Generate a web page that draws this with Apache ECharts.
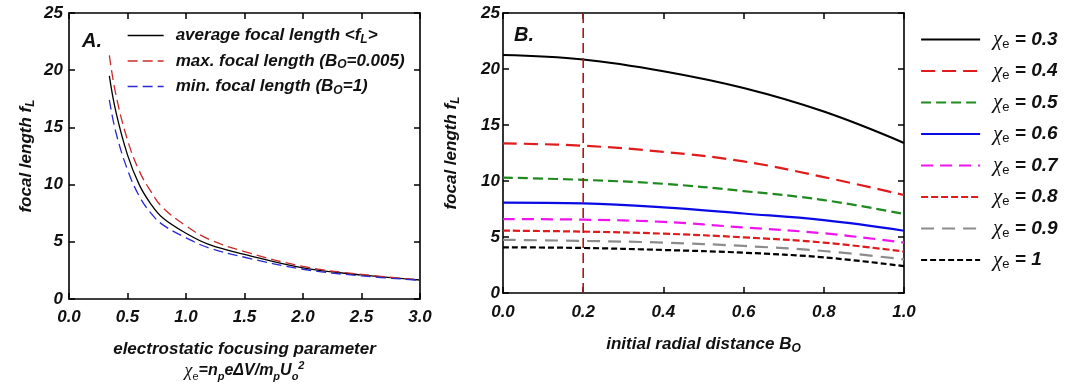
<!DOCTYPE html>
<html>
<head>
<meta charset="utf-8">
<script src="https://cdn.jsdelivr.net/npm/echarts@6/dist/echarts.min.js"></script>
<style>html,body{margin:0;padding:0;background:#fff;}#c{width:1068px;height:389px;}</style>
</head>
<body>
<div id="c"></div>
<script>
// ---- Panel A data ----
const chiValues = [0.345, 0.4, 0.5, 0.6, 0.7, 0.8, 1.0, 1.2, 1.5, 2.0, 2.5, 3.0];
const avgFocal  = [19.5, 16.4, 12.6, 10.0, 8.3, 7.1, 5.75, 4.75, 3.9, 2.72, 2.1, 1.66];
const maxFocal  = [21.3, 17.9, 13.9, 11.2, 9.4, 8.0, 6.4, 5.2, 4.15, 2.85, 2.15, 1.68];
const minFocal  = [17.4, 14.6, 11.3, 9.0, 7.5, 6.5, 5.35, 4.45, 3.65, 2.6, 2.02, 1.64];
const seriesNamesA = ['average focal length <fL>', 'max. focal length (BO=0.005)', 'min. focal length (BO=1)'];

// ---- Panel B data ----
const radialB = [0, 0.2, 0.4, 0.6, 0.8, 1.0];
const chiLabels = ['0.3', '0.4', '0.5', '0.6', '0.7', '0.8', '0.9', '1'];
const f_chi03 = [21.25, 20.85, 19.8, 18.3, 16.2, 13.4];
const f_chi04 = [13.36, 13.15, 12.6, 11.75, 10.35, 8.75];
const f_chi05 = [10.3, 10.1, 9.75, 9.1, 8.3, 7.05];
const f_chi06 = [8.07, 8.0, 7.65, 7.1, 6.5, 5.56];
const f_chi07 = [6.6, 6.55, 6.35, 5.85, 5.33, 4.5];
const f_chi08 = [5.57, 5.48, 5.3, 4.97, 4.5, 3.7];
const f_chi09 = [4.75, 4.65, 4.5, 4.2, 3.75, 3.0];
const f_chi10 = [4.08, 4.02, 3.84, 3.6, 3.18, 2.4];
const markerB = 0.2;
const yRange = [0, 25];

const FONT = "'Liberation Sans', Arial, sans-serif";
const pairs = (xs, ys) => xs.map((x, i) => [x, ys[i]]);

const tickLabel = {fontFamily: FONT, fontWeight: 'bold', fontStyle: 'italic', fontSize: 17, color: '#111'};
const axisLine = {show: true, onZero: false, lineStyle: {color: '#000', width: 1.6}};
const tickIn = {show: true, inside: true, length: 6, lineStyle: {color: '#000', width: 1.5}};

const subRich = {
  b: {fontFamily: FONT, fontWeight: 'bold', fontStyle: 'italic', fontSize: 17, color: '#111', lineHeight: 22, align: 'center'},
  sub: {fontFamily: FONT, fontWeight: 'bold', fontStyle: 'italic', fontSize: 12, color: '#111', lineHeight: 12, verticalAlign: 'bottom', align: 'center'},
  chi: {fontFamily: "'Liberation Serif', serif", fontStyle: 'italic', fontSize: 18, color: '#111', lineHeight: 22, align: 'center'},
  chisub: {fontFamily: FONT, fontSize: 11, color: '#111', lineHeight: 10, verticalAlign: 'bottom', align: 'center'},
  n: {fontFamily: FONT, fontWeight: 'bold', fontStyle: 'italic', fontSize: 16, color: '#111', lineHeight: 22, align: 'center'},
  nsub: {fontFamily: FONT, fontWeight: 'bold', fontStyle: 'italic', fontSize: 11, color: '#111', lineHeight: 10, verticalAlign: 'bottom', align: 'center'},
  nsup: {fontFamily: FONT, fontWeight: 'bold', fontStyle: 'italic', fontSize: 11, color: '#111', lineHeight: 10, verticalAlign: 'top', align: 'center'}
};

function xAxisPair(grid, max, interval, nameText, nameGap, labelMargin) {
  return [
    {gridIndex: grid, type: 'value', min: 0, max: max, interval: interval, position: 'bottom',
     axisLine: axisLine, axisTick: tickIn, splitLine: {show: false},
     axisLabel: Object.assign({margin: labelMargin, formatter: v => v.toFixed(1)}, tickLabel),
     name: nameText, nameLocation: 'middle', nameGap: nameGap,
     nameTextStyle: {rich: subRich, align: 'center'}},
    {gridIndex: grid, type: 'value', min: 0, max: max, interval: interval, position: 'top',
     axisLine: axisLine, axisTick: tickIn, axisLabel: {show: false}, splitLine: {show: false}}
  ];
}
function yAxisPair(grid, nameGap, labelMargin) {
  return [
    {gridIndex: grid, type: 'value', min: yRange[0], max: yRange[1], interval: 5, position: 'left',
     axisLine: axisLine, axisTick: tickIn, splitLine: {show: false},
     axisLabel: Object.assign({margin: labelMargin}, tickLabel),
     name: '{b|focal length f}{sub|L}', nameLocation: 'middle', nameGap: nameGap, nameRotate: 90,
     nameTextStyle: {rich: subRich, align: 'center'}},
    {gridIndex: grid, type: 'value', min: yRange[0], max: yRange[1], interval: 5, position: 'right',
     axisLine: axisLine, axisTick: tickIn, axisLabel: {show: false}, splitLine: {show: false}}
  ];
}

const xAxes = [].concat(
  xAxisPair(0, 3, 0.5, '{b|electrostatic focusing parameter}\n{chi|χ}{chisub|e}{n|=n}{nsub|p}{n|eΔV/m}{nsub|p}{n|U}{nsub|o}{nsup|2}', 39, 10),
  xAxisPair(1, 1, 0.2, '{b|initial radial distance B}{sub|O}', 40, 11)
);
const yAxes = [].concat(yAxisPair(0, 32, 6), yAxisPair(1, 41, 3));

const seriesA = [
  {name: seriesNamesA[0], ys: avgFocal, color: '#000', type: 'solid', width: 1.3},
  {name: seriesNamesA[1], ys: maxFocal, color: '#cc2a2a', type: [10, 5], width: 1.3},
  {name: seriesNamesA[2], ys: minFocal, color: '#2a2ad0', type: [10, 5], width: 1.3}
].map(s => ({
  name: s.name, type: 'line', xAxisIndex: 0, yAxisIndex: 0, data: pairs(chiValues, s.ys),
  smooth: 0.4, symbol: 'none', lineStyle: {color: s.color, width: s.width, type: s.type},
  itemStyle: {color: s.color}
}));

const bStyles = [
  {ys: f_chi03, color: '#000000', type: 'solid', width: 2.2},
  {ys: f_chi04, color: '#e01b1b', type: [14, 7], width: 2.2},
  {ys: f_chi05, color: '#1f8a1f', type: [10, 5], width: 2.2},
  {ys: f_chi06, color: '#0a0ae6', type: 'solid', width: 2.2},
  {ys: f_chi07, color: '#ee14ee', type: [12, 7], width: 2.2},
  {ys: f_chi08, color: '#e01b1b', type: [7, 3], width: 2.2},
  {ys: f_chi09, color: '#8c8c8c', type: [13, 8], width: 2.2},
  {ys: f_chi10, color: '#000000', type: [6, 3], width: 2.2}
];
const seriesNamesB = chiLabels.map(c => 'χe = ' + c);
const seriesB = bStyles.map((s, i) => ({
  name: seriesNamesB[i], type: 'line', xAxisIndex: 2, yAxisIndex: 2, data: pairs(radialB, s.ys),
  smooth: 0.4, symbol: 'none', lineStyle: {color: s.color, width: s.width, type: s.type},
  itemStyle: {color: s.color}, z: 3
}));
const markerSeries = {
  name: 'marker', type: 'line', xAxisIndex: 2, yAxisIndex: 2, symbol: 'none',
  data: [[markerB, yRange[0]], [markerB, yRange[1]]],
  lineStyle: {color: '#b31515', width: 1.6, type: [10, 5]}, z: 4, silent: true
};

const legendTextA = {
  rich: {
    b: {fontFamily: FONT, fontWeight: 'bold', fontStyle: 'italic', fontSize: 17, color: '#111', lineHeight: 20},
    sub: {fontFamily: FONT, fontWeight: 'bold', fontStyle: 'italic', fontSize: 12, color: '#111', lineHeight: 11, verticalAlign: 'bottom'}
  },
  padding: [0, 0, 0, 7]
};
const legendFmtA = {};
legendFmtA[seriesNamesA[0]] = '{b|average focal length <f}{sub|L}{b|>}';
legendFmtA[seriesNamesA[1]] = '{b|max. focal length (B}{sub|O}{b|=0.005)}';
legendFmtA[seriesNamesA[2]] = '{b|min. focal length (B}{sub|O}{b|=1)}';

const option = {
  backgroundColor: '#fff',
  animation: false,
  grid: [
    {left: 69, top: 13, width: 351, height: 286},
    {left: 503, top: 13, width: 401, height: 280}
  ],
  xAxis: xAxes,
  yAxis: yAxes,
  legend: [
    {data: seriesNamesA, orient: 'vertical', left: 127, top: 27, padding: 0, itemWidth: 36, itemHeight: 14,
     itemGap: 7, textStyle: legendTextA, formatter: n => legendFmtA[n],
     itemStyle: {opacity: 0}, lineStyle: {width: 1.3, opacity: 1}, selectedMode: false},
    {data: seriesNamesB, orient: 'vertical', left: 920, top: 29, padding: 0, itemWidth: 59, itemHeight: 14,
     itemGap: 10, selectedMode: false, itemStyle: {opacity: 0}, lineStyle: {width: 2.2, opacity: 1},
     textStyle: {
       padding: [0, 0, 0, 8],
       rich: {
         chi: {fontFamily: "'Liberation Serif', serif", fontStyle: 'italic', fontSize: 21, color: '#111', lineHeight: 22},
         sub: {fontFamily: FONT, fontSize: 13, color: '#111', lineHeight: 12, verticalAlign: 'bottom'},
         b: {fontFamily: FONT, fontWeight: 'bold', fontStyle: 'italic', fontSize: 19, color: '#111', lineHeight: 22}
       }
     },
     formatter: n => '{chi|χ}{sub|e}{b| = ' + n.split('= ')[1] + '}'}
  ],
  graphic: [
    {type: 'text', left: 82, top: 31, style: {text: 'A.', font: "italic bold 20px 'Liberation Sans', Arial", fill: '#111'}},
    {type: 'text', left: 514, top: 25, style: {text: 'B.', font: "italic bold 20px 'Liberation Sans', Arial", fill: '#111'}}
  ],
  series: seriesA.concat(seriesB, [markerSeries])
};

echarts.init(document.getElementById('c'), null, {renderer: 'canvas'}).setOption(option);
</script>
</body>
</html>
